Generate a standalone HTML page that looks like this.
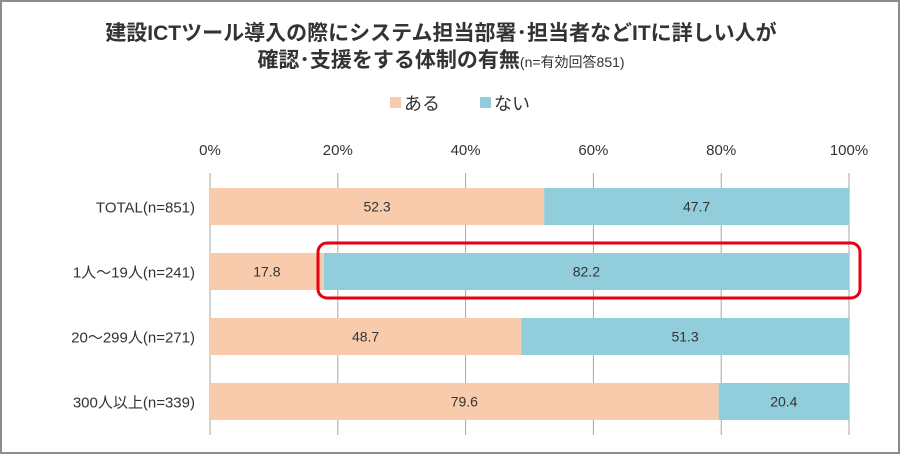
<!DOCTYPE html>
<html><head><meta charset="utf-8">
<style>
body{margin:0;background:#fff}
svg{display:block;font-family:"Liberation Sans","Noto Sans CJK JP",sans-serif}
</style></head>
<body>
<svg width="900" height="454" id="c">
<rect x="1" y="1" width="898" height="452" fill="#fff" stroke="#8c8c8c" stroke-width="2"/>
<text x="441" y="40" text-anchor="middle" font-size="21" font-weight="bold" fill="#333">建設ICTツール導入の際にシステム担当部署･担当者などITに詳しい人が</text>
<text x="441" y="67" text-anchor="middle" font-size="21" font-weight="bold" fill="#333">確認･支援をする体制の有無<tspan font-size="14" font-weight="normal">(n=有効回答851)</tspan></text>
<g>
<rect x="390" y="97" width="11" height="11" fill="#F8CBAD"/>
<text x="404" y="110" font-size="18" fill="#333">ある</text>
<rect x="480" y="97" width="11" height="11" fill="#92CDDC"/>
<text x="494" y="110" font-size="18" fill="#333">ない</text>
</g>
<g id="plot"></g>
<rect x="318" y="243" width="542" height="55" rx="9" fill="none" stroke="#E60012" stroke-width="3"/>
</svg>
<script>
const categories=["TOTAL(n=851)","1人～19人(n=241)","20～299人(n=271)","300人以上(n=339)"];
const aru=[52.3,17.8,48.7,79.6];
const nai=[47.7,82.2,51.3,20.4];
const ticks=[0,20,40,60,80,100];
const x0=210,x1=849,rowTop=188,rowStep=65,barH=37;
const X=v=>x0+(x1-x0)*v/100;
const Y=i=>rowTop+i*rowStep;
const g=document.getElementById('plot');
const NS="http://www.w3.org/2000/svg";
function mk(t,a){const e=document.createElementNS(NS,t);for(const k in a)e.setAttribute(k,a[k]);g.appendChild(e);return e;}
ticks.forEach(t=>{
 const l=mk('line',{x1:X(t),x2:X(t),y1:173,y2:435,stroke:'#a6a6a6','stroke-width':1});
 
 
 const tx=mk('text',{x:X(t),y:155,'text-anchor':'middle','font-size':15,fill:'#333'});
 tx.textContent=t+'%';
 
 
});
categories.forEach((c,i)=>{
 const y=Y(i);
 const a=mk('rect',{x:X(0),y:y,width:X(aru[i])-X(0),height:barH,fill:'#F8CBAD'});
 
 
 const n=mk('rect',{x:X(aru[i]),y:y,width:X(aru[i]+nai[i])-X(aru[i]),height:barH,fill:'#92CDDC'});
 
 
 const ta=mk('text',{x:(X(0)+X(aru[i]))/2,y:y+barH/2+5,'text-anchor':'middle','font-size':14,fill:'#333'});
 ta.textContent=aru[i].toFixed(1);
 
 
 const tn=mk('text',{x:(X(aru[i])+X(aru[i]+nai[i]))/2,y:y+barH/2+5,'text-anchor':'middle','font-size':14,fill:'#333'});
 tn.textContent=nai[i].toFixed(1);
 
 
 const lb=mk('text',{x:195,y:y+barH/2+6,'text-anchor':'end','font-size':15,fill:'#333'});
 lb.textContent=c;
 
 
});
</script>
</body></html>
